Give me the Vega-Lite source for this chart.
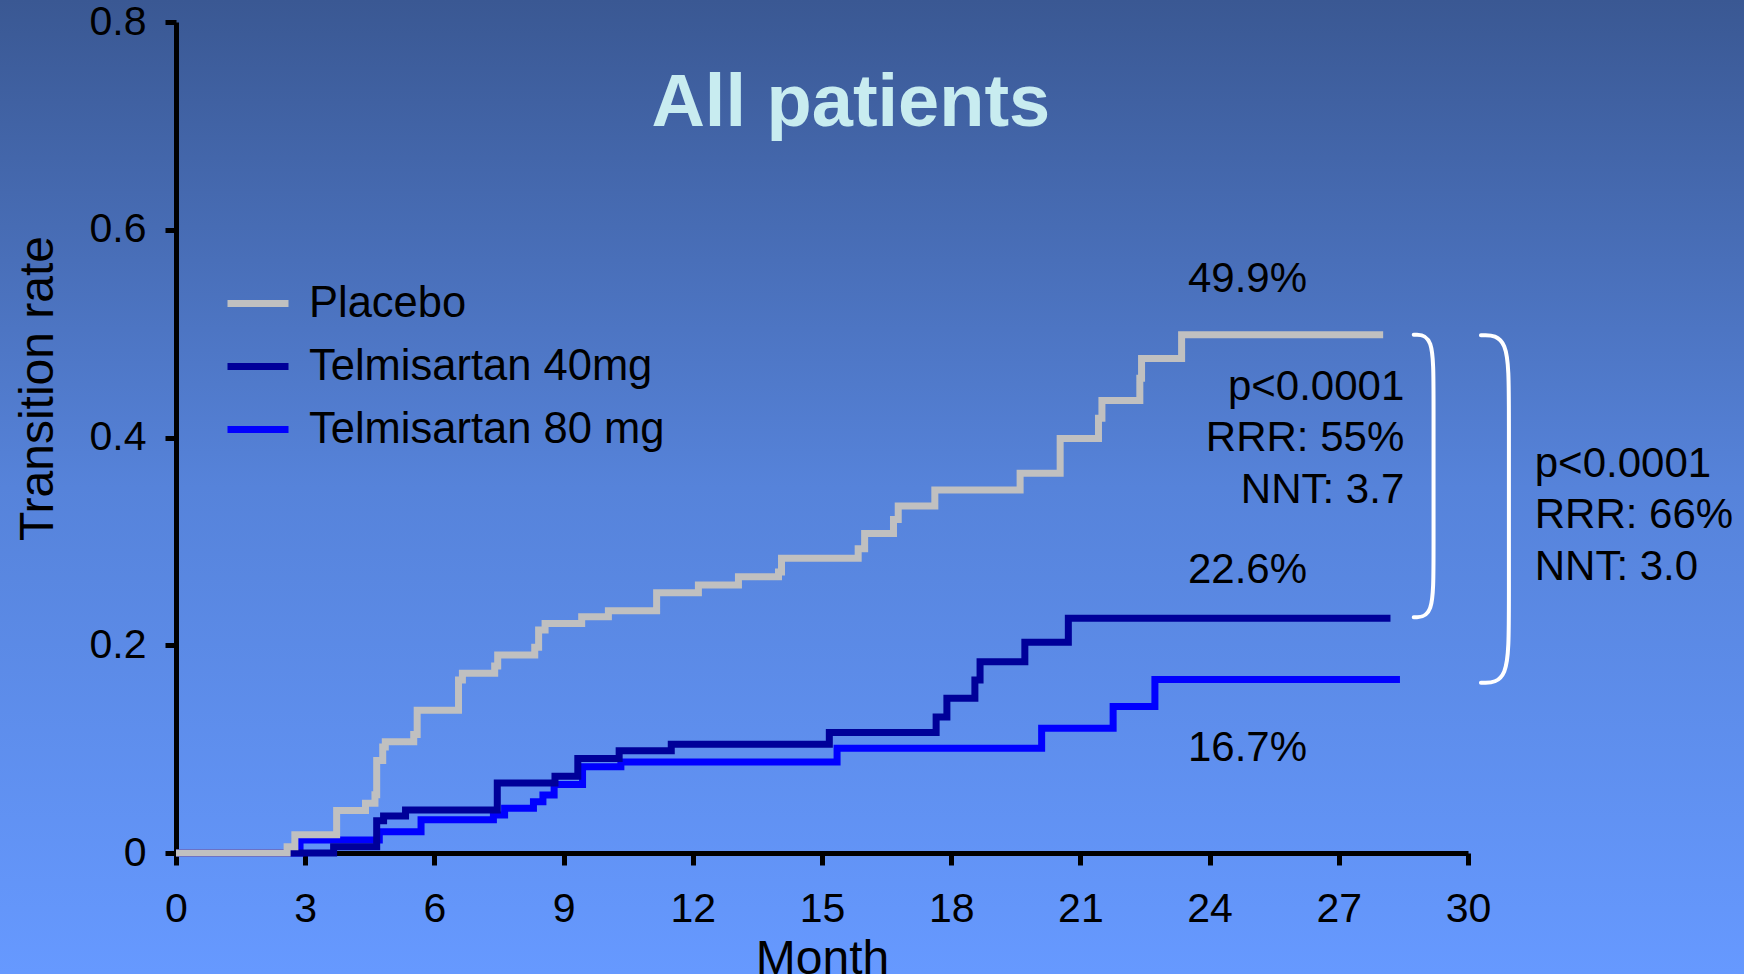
{
  "$schema": "https://vega.github.io/schema/vega-lite/v6.json",
  "width": 1744,
  "height": 974,
  "autosize": {"type": "none"},
  "padding": 0,
  "background": "#5078c8",
  "config": {
    "font": "Liberation Sans",
    "view": {
      "stroke": null,
      "fill": {
        "gradient": "linear",
        "x1": 0, "y1": 0, "x2": 0, "y2": 1,
        "stops": [
          {"offset": 0, "color": "#3a5893"},
          {"offset": 0.5, "color": "#5683da"},
          {"offset": 1, "color": "#6699ff"}
        ]
      }
    },
    "axis": {
      "grid": false,
      "domainColor": "black",
      "domainWidth": 5,
      "tickColor": "black",
      "tickWidth": 5,
      "labelColor": "black",
      "labelFont": "Liberation Sans",
      "labelFontSize": 41,
      "titleColor": "black",
      "titleFont": "Liberation Sans",
      "titleFontSize": 48,
      "titleFontWeight": "normal",
      "labelFlush": false,
      "labelOverlap": false
    }
  },
  "datasets": {
    "curves": [
      {"series": "Telmisartan 80 mg", "month": 0, "rate": 0},
      {"series": "Telmisartan 80 mg", "month": 2.88, "rate": 0.0125},
      {"series": "Telmisartan 80 mg", "month": 4.72, "rate": 0.0205},
      {"series": "Telmisartan 80 mg", "month": 5.69, "rate": 0.032},
      {"series": "Telmisartan 80 mg", "month": 7.37, "rate": 0.0366},
      {"series": "Telmisartan 80 mg", "month": 7.63, "rate": 0.043},
      {"series": "Telmisartan 80 mg", "month": 8.3, "rate": 0.0494},
      {"series": "Telmisartan 80 mg", "month": 8.52, "rate": 0.0558},
      {"series": "Telmisartan 80 mg", "month": 8.78, "rate": 0.066},
      {"series": "Telmisartan 80 mg", "month": 9.44, "rate": 0.083},
      {"series": "Telmisartan 80 mg", "month": 10.33, "rate": 0.0875},
      {"series": "Telmisartan 80 mg", "month": 15.35, "rate": 0.1008},
      {"series": "Telmisartan 80 mg", "month": 20.1, "rate": 0.12},
      {"series": "Telmisartan 80 mg", "month": 21.76, "rate": 0.141},
      {"series": "Telmisartan 80 mg", "month": 22.73, "rate": 0.167},
      {"series": "Telmisartan 80 mg", "month": 28.42, "rate": 0.167},

      {"series": "Telmisartan 40mg", "month": 0, "rate": 0},
      {"series": "Telmisartan 40mg", "month": 3.66, "rate": 0.006},
      {"series": "Telmisartan 40mg", "month": 4.66, "rate": 0.031},
      {"series": "Telmisartan 40mg", "month": 4.82, "rate": 0.0355},
      {"series": "Telmisartan 40mg", "month": 5.33, "rate": 0.0415},
      {"series": "Telmisartan 40mg", "month": 7.46, "rate": 0.0675},
      {"series": "Telmisartan 40mg", "month": 8.8, "rate": 0.0738},
      {"series": "Telmisartan 40mg", "month": 9.33, "rate": 0.091},
      {"series": "Telmisartan 40mg", "month": 10.29, "rate": 0.0985},
      {"series": "Telmisartan 40mg", "month": 11.5, "rate": 0.1046},
      {"series": "Telmisartan 40mg", "month": 15.17, "rate": 0.116},
      {"series": "Telmisartan 40mg", "month": 17.65, "rate": 0.131},
      {"series": "Telmisartan 40mg", "month": 17.9, "rate": 0.149},
      {"series": "Telmisartan 40mg", "month": 18.55, "rate": 0.1665},
      {"series": "Telmisartan 40mg", "month": 18.67, "rate": 0.184},
      {"series": "Telmisartan 40mg", "month": 19.71, "rate": 0.203},
      {"series": "Telmisartan 40mg", "month": 20.72, "rate": 0.226},
      {"series": "Telmisartan 40mg", "month": 28.2, "rate": 0.226},

      {"series": "Placebo", "month": 0, "rate": 0},
      {"series": "Placebo", "month": 2.58, "rate": 0.006},
      {"series": "Placebo", "month": 2.76, "rate": 0.0175},
      {"series": "Placebo", "month": 3.73, "rate": 0.041},
      {"series": "Placebo", "month": 4.4, "rate": 0.048},
      {"series": "Placebo", "month": 4.62, "rate": 0.056},
      {"series": "Placebo", "month": 4.66, "rate": 0.089},
      {"series": "Placebo", "month": 4.8, "rate": 0.102},
      {"series": "Placebo", "month": 4.86, "rate": 0.107},
      {"series": "Placebo", "month": 5.52, "rate": 0.114},
      {"series": "Placebo", "month": 5.6, "rate": 0.1375},
      {"series": "Placebo", "month": 6.56, "rate": 0.1665},
      {"series": "Placebo", "month": 6.65, "rate": 0.173},
      {"series": "Placebo", "month": 7.4, "rate": 0.18},
      {"series": "Placebo", "month": 7.47, "rate": 0.1906},
      {"series": "Placebo", "month": 8.33, "rate": 0.198},
      {"series": "Placebo", "month": 8.42, "rate": 0.2147},
      {"series": "Placebo", "month": 8.57, "rate": 0.221},
      {"series": "Placebo", "month": 9.42, "rate": 0.2275},
      {"series": "Placebo", "month": 10.04, "rate": 0.2333},
      {"series": "Placebo", "month": 11.16, "rate": 0.2506},
      {"series": "Placebo", "month": 12.13, "rate": 0.258},
      {"series": "Placebo", "month": 13.06, "rate": 0.266},
      {"series": "Placebo", "month": 13.99, "rate": 0.2705},
      {"series": "Placebo", "month": 14.06, "rate": 0.2837},
      {"series": "Placebo", "month": 15.84, "rate": 0.293},
      {"series": "Placebo", "month": 15.99, "rate": 0.3077},
      {"series": "Placebo", "month": 16.66, "rate": 0.321},
      {"series": "Placebo", "month": 16.77, "rate": 0.334},
      {"series": "Placebo", "month": 17.62, "rate": 0.3495},
      {"series": "Placebo", "month": 19.6, "rate": 0.3655},
      {"series": "Placebo", "month": 20.53, "rate": 0.399},
      {"series": "Placebo", "month": 21.42, "rate": 0.4185},
      {"series": "Placebo", "month": 21.5, "rate": 0.4355},
      {"series": "Placebo", "month": 22.38, "rate": 0.457},
      {"series": "Placebo", "month": 22.42, "rate": 0.476},
      {"series": "Placebo", "month": 23.35, "rate": 0.499},
      {"series": "Placebo", "month": 28.03, "rate": 0.499}
    ],
    "brackets": [
      {"bracket": "40mg", "i": 0, "month": 28.74, "rate": 0.499},
      {"bracket": "40mg", "i": 1, "month": 29.2, "rate": 0.499},
      {"bracket": "40mg", "i": 2, "month": 29.2, "rate": 0.444},
      {"bracket": "40mg", "i": 3, "month": 29.2, "rate": 0.282},
      {"bracket": "40mg", "i": 4, "month": 29.2, "rate": 0.227},
      {"bracket": "40mg", "i": 5, "month": 28.74, "rate": 0.227},
      {"bracket": "80mg", "i": 0, "month": 30.3, "rate": 0.4985},
      {"bracket": "80mg", "i": 1, "month": 30.95, "rate": 0.4985},
      {"bracket": "80mg", "i": 2, "month": 30.95, "rate": 0.4335},
      {"bracket": "80mg", "i": 3, "month": 30.95, "rate": 0.229},
      {"bracket": "80mg", "i": 4, "month": 30.95, "rate": 0.164},
      {"bracket": "80mg", "i": 5, "month": 30.3, "rate": 0.164}
    ],
    "notes": [
      {"kind": "title", "label": "All patients", "month": 15.67, "rate": 0.6999},
      {"kind": "value", "label": "49.9%", "month": 24.88, "rate": 0.5404},
      {"kind": "value", "label": "22.6%", "month": 24.88, "rate": 0.2599},
      {"kind": "value", "label": "16.7%", "month": 24.88, "rate": 0.0889},
      {"kind": "inner", "label": "p<0.0001", "month": 28.52, "rate": 0.4361},
      {"kind": "inner", "label": "RRR: 55%", "month": 28.52, "rate": 0.387},
      {"kind": "inner", "label": "NNT: 3.7", "month": 28.52, "rate": 0.337},
      {"kind": "outer", "label": "p<0.0001", "month": 31.55, "rate": 0.3623},
      {"kind": "outer", "label": "RRR: 66%", "month": 31.55, "rate": 0.3129},
      {"kind": "outer", "label": "NNT: 3.0", "month": 31.55, "rate": 0.2628}
    ]
  },
  "encoding": {
    "x": {
      "field": "month",
      "type": "quantitative",
      "scale": {"domain": [0, 30], "range": [176, 1468], "nice": false, "zero": false},
      "axis": {
        "title": "Month",
        "values": [0, 3, 6, 9, 12, 15, 18, 21, 24, 27, 30],
        "offset": -121,
        "tickSize": 12,
        "labelPadding": 24,
        "titleBaseline": "alphabetic",
        "titleY": 120
      }
    },
    "y": {
      "field": "rate",
      "type": "quantitative",
      "scale": {"domain": [0, 0.8], "range": [853, 22], "nice": false, "zero": false},
      "axis": {
        "title": "Transition rate",
        "values": [0, 0.2, 0.4, 0.6, 0.8],
        "format": "~g",
        "offset": -176,
        "tickSize": 11,
        "labelPadding": 19,
        "titleAngle": -90,
        "titleBaseline": "alphabetic",
        "titleAlign": "center",
        "titleX": -124,
        "titleY": 388
      }
    }
  },
  "layer": [
    {
      "data": {"name": "curves"},
      "mark": {"type": "line", "interpolate": "step-after", "strokeWidth": 7},
      "encoding": {
        "color": {
          "field": "series",
          "type": "nominal",
          "scale": {
            "domain": ["Placebo", "Telmisartan 40mg", "Telmisartan 80 mg"],
            "range": ["#c0c0c0", "#000099", "#0000ff"]
          },
          "legend": {
            "title": null,
            "orient": "none",
            "legendX": 224,
            "legendY": 272,
            "padding": 0,
            "labelFont": "Liberation Sans",
            "labelFontSize": 43.5,
            "labelColor": "black",
            "labelLimit": 0,
            "labelOffset": 17,
            "symbolType": "stroke",
            "symbolSize": 3721,
            "symbolStrokeWidth": 7,
            "clipHeight": 63,
            "rowPadding": 0
          }
        }
      }
    },
    {
      "data": {"name": "brackets"},
      "mark": {"type": "line", "interpolate": "basis", "color": "white", "strokeWidth": 4, "strokeCap": "round"},
      "encoding": {
        "detail": {"field": "bracket", "type": "nominal"},
        "order": {"field": "i", "type": "quantitative"}
      }
    },
    {
      "data": {"name": "notes"},
      "transform": [{"filter": "datum.kind === 'title'"}],
      "mark": {"type": "text", "fontSize": 74, "fontWeight": "bold", "color": "#c8ecf0", "align": "center", "baseline": "alphabetic"},
      "encoding": {"text": {"field": "label"}}
    },
    {
      "data": {"name": "notes"},
      "transform": [{"filter": "datum.kind === 'value'"}],
      "mark": {"type": "text", "fontSize": 42, "color": "black", "align": "center", "baseline": "alphabetic"},
      "encoding": {"text": {"field": "label"}}
    },
    {
      "data": {"name": "notes"},
      "transform": [{"filter": "datum.kind === 'inner'"}],
      "mark": {"type": "text", "fontSize": 42, "color": "black", "align": "right", "baseline": "alphabetic"},
      "encoding": {"text": {"field": "label"}}
    },
    {
      "data": {"name": "notes"},
      "transform": [{"filter": "datum.kind === 'outer'"}],
      "mark": {"type": "text", "fontSize": 42, "color": "black", "align": "left", "baseline": "alphabetic"},
      "encoding": {"text": {"field": "label"}}
    }
  ]
}
